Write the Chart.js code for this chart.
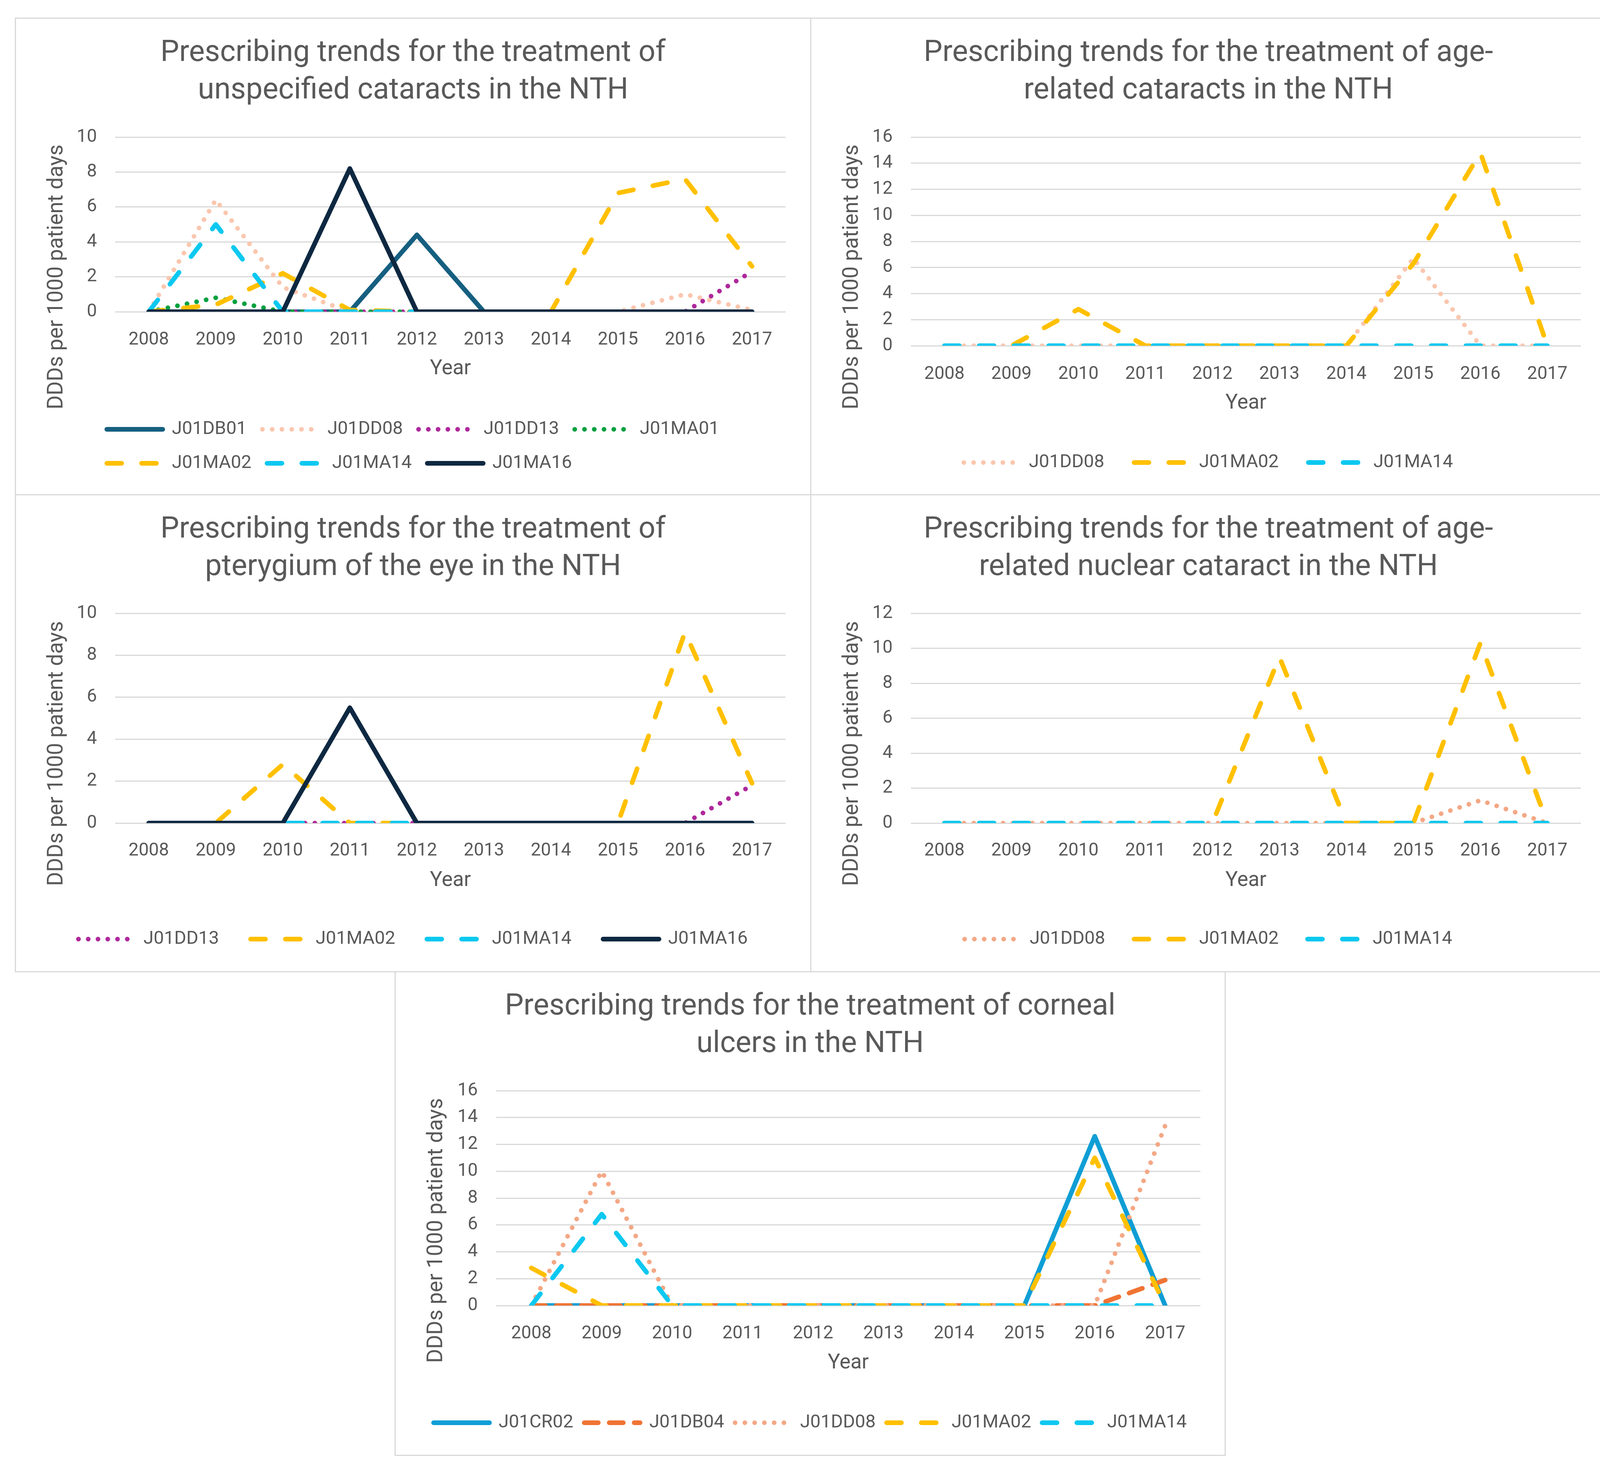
<!DOCTYPE html>
<html>
<head>
<meta charset="utf-8">
<title>Prescribing trends in the NTH</title>
<script src="https://cdn.jsdelivr.net/npm/chart.js@4.4.1/dist/chart.umd.min.js"></script>
<style>
  html, body { margin: 0; padding: 0; background: #fff; }
  body { width: 4157px; height: 3763px; position: relative; overflow: hidden; }
  .panel { position: absolute; }
  .panel canvas { position: absolute; left: 0; top: 0; }
  .frame { position: absolute; left: 0; top: 0; right: 0; bottom: 0; border: 3px solid #d9d9d9; box-sizing: border-box; pointer-events: none; }
</style>
</head>
<body>
<div class="panel" id="p1" style="left:38px;top:45px;width:2039px;height:1223px"><canvas id="c1"></canvas><div class="frame"></div></div>
<div class="panel" id="p2" style="left:2074px;top:45px;width:2039px;height:1223px"><canvas id="c2"></canvas><div class="frame"></div></div>
<div class="panel" id="p3" style="left:38px;top:1265px;width:2039px;height:1224px"><canvas id="c3"></canvas><div class="frame"></div></div>
<div class="panel" id="p4" style="left:2074px;top:1265px;width:2039px;height:1224px"><canvas id="c4"></canvas><div class="frame"></div></div>
<div class="panel" id="p5" style="left:1010px;top:2486px;width:2128px;height:1241px"><canvas id="c5"></canvas><div class="frame"></div></div>
<script>
const years = ['2008', '2009', '2010', '2011', '2012', '2013', '2014', '2015', '2016', '2017'];

// unspecified cataracts
const unspecJ01DB01 = [0, 0, 0, 0, 4.4, 0, 0, 0, 0, 0];
const unspecJ01DD08 = [0, 6.4, 1.4, 0, 0, 0, 0, 0, 1.0, 0.1];
const unspecJ01DD13 = [0, 0, 0, 0, 0, 0, 0, 0, 0, 2.3];
const unspecJ01MA01 = [0, 0.8, 0, 0, 0, 0, 0, 0, 0, 0];
const unspecJ01MA02 = [0, 0.4, 2.2, 0.1, 0, 0, 0, 6.8, 7.6, 2.6];
const unspecJ01MA14 = [0, 5.0, 0, 0, 0, 0, 0, 0, 0, 0];
const unspecJ01MA16 = [0, 0, 0, 8.2, 0, 0, 0, 0, 0, 0];

// age-related cataracts
const ageJ01DD08 = [0, 0, 0, 0, 0, 0, 0, 6.7, 0, 0];
const ageJ01MA02 = [0, 0, 2.8, 0, 0, 0, 0, 6.3, 14.8, 0];
const ageJ01MA14 = [0, 0, 0, 0, 0, 0, 0, 0, 0, 0];

// pterygium of the eye
const ptJ01DD13 = [0, 0, 0, 0, 0, 0, 0, 0, 0, 1.8];
const ptJ01MA02 = [0, 0, 2.8, 0, 0, 0, 0, 0, 9.1, 1.9];
const ptJ01MA14 = [0, 0, 0, 0, 0, 0, 0, 0, 0, 0];
const ptJ01MA16 = [0, 0, 0, 5.5, 0, 0, 0, 0, 0, 0];

// age-related nuclear cataract
const nucJ01DD08 = [0, 0, 0, 0, 0, 0, 0, 0, 1.3, 0];
const nucJ01MA02 = [0, 0, 0, 0, 0, 9.5, 0, 0, 10.3, 0];
const nucJ01MA14 = [0, 0, 0, 0, 0, 0, 0, 0, 0, 0];

// corneal ulcers
const ulcJ01CR02 = [0, 0, 0, 0, 0, 0, 0, 0, 12.6, 0];
const ulcJ01DB04 = [0, 0, 0, 0, 0, 0, 0, 0, 0, 1.9];
const ulcJ01DD08 = [0, 10.0, 0, 0, 0, 0, 0, 0, 0, 13.4];
const ulcJ01MA02 = [2.8, 0, 0, 0, 0, 0, 0, 0, 11.0, 0];
const ulcJ01MA14 = [0, 6.8, 0, 0, 0, 0, 0, 0, 0, 0];

const ink = '#595959';
const fontFamily = 'Roboto, "Liberation Sans", sans-serif';
const titleSize = 76, titleLine = 96, tickSize = 46, sideSize = 55, yearSize = 53, legendSize = 47;
const lineW = 12;
const paleDD08 = '#FAC7AF';

const seriesLook = {
  J01CR02: { color: '#0F9ED5', dash: [] },
  J01DB01: { color: '#155F80', dash: [] },
  J01DB04: { color: '#F07434', dash: [36, 28] },
  J01DD08: { color: '#F4A886', dash: [0.01, 25] },
  J01DD13: { color: '#AE289B', dash: [0.01, 25] },
  J01MA01: { color: '#00A03E', dash: [0.01, 25] },
  J01MA02: { color: '#FFC000', dash: [38, 51] },
  J01MA14: { color: '#0CC8F0', dash: [38, 51] },
  J01MA16: { color: '#0E2841', dash: [] }
};

// centre the widest legend row and keep the other rows aligned to its left edge
const legendColumns = {
  id: 'legendColumns',
  afterLayout(chart) {
    const lg = chart.legend;
    if (!lg || !lg.lineWidths || !lg.lineWidths.length) return;
    const pad = lg.options.labels.padding;
    const widest = Math.max(...lg.lineWidths);
    const shift = (lg.right - lg.left - pad - widest) / 2;
    lg.left += shift;
    lg.right += shift;
  }
};

// vertical axis title, placed like Excel does it
const sideTitle = {
  id: 'sideTitle',
  afterDraw(chart, args, opts) {
    const ctx = chart.ctx;
    ctx.save();
    ctx.translate(opts.x, opts.y);
    ctx.rotate(-Math.PI / 2);
    ctx.fillStyle = ink;
    ctx.font = sideSize + 'px ' + fontFamily;
    ctx.textAlign = 'center';
    ctx.textBaseline = 'middle';
    ctx.fillText(opts.text, 0, 0);
    ctx.restore();
  }
};

const panels = [
  {
    canvas: 'c1',
    title: ['Prescribing trends for the treatment of', 'unspecified cataracts in the NTH'],
    yMax: 10,
    pale: true,
    series: [['J01DB01', unspecJ01DB01], ['J01DD08', unspecJ01DD08], ['J01DD13', unspecJ01DD13], ['J01MA01', unspecJ01MA01],
             ['J01MA02', unspecJ01MA02], ['J01MA14', unspecJ01MA14], ['J01MA16', unspecJ01MA16]],
    box: { w: 2039, h: 1223, top: 306, bottom: 753, left: 257, right: 1973, titleY: 92, labelY: 817, yearY: 900, legendY: 1054, gap: 40, rows: 2, sideX: 108, sideY: 664 }
  },
  {
    canvas: 'c2',
    title: ['Prescribing trends for the treatment of age-', 'related cataracts in the NTH'],
    yMax: 16,
    pale: true,
    series: [['J01DD08', ageJ01DD08], ['J01MA02', ageJ01MA02], ['J01MA14', ageJ01MA14]],
    box: { w: 2039, h: 1223, top: 306, bottom: 840, left: 258, right: 1973, titleY: 92, labelY: 905, yearY: 988, legendY: 1139, gap: 76, rows: 1, sideX: 108, sideY: 664 }
  },
  {
    canvas: 'c3',
    title: ['Prescribing trends for the treatment of', 'pterygium of the eye in the NTH'],
    yMax: 10,
    series: [['J01DD13', ptJ01DD13], ['J01MA02', ptJ01MA02], ['J01MA14', ptJ01MA14], ['J01MA16', ptJ01MA16]],
    box: { w: 2039, h: 1224, top: 305, bottom: 842, left: 257, right: 1973, titleY: 92, labelY: 905, yearY: 990, legendY: 1139, gap: 81, rows: 1, sideX: 108, sideY: 664 }
  },
  {
    canvas: 'c4',
    title: ['Prescribing trends for the treatment of age-', 'related nuclear cataract in the NTH'],
    yMax: 12,
    series: [['J01DD08', nucJ01DD08], ['J01MA02', nucJ01MA02], ['J01MA14', nucJ01MA14]],
    box: { w: 2039, h: 1224, top: 305, bottom: 842, left: 258, right: 1973, titleY: 92, labelY: 905, yearY: 990, legendY: 1139, gap: 74, rows: 1, sideX: 108, sideY: 664 }
  },
  {
    canvas: 'c5',
    title: ['Prescribing trends for the treatment of corneal', 'ulcers in the NTH'],
    yMax: 16,
    series: [['J01CR02', ulcJ01CR02], ['J01DB04', ulcJ01DB04], ['J01DD08', ulcJ01DD08], ['J01MA02', ulcJ01MA02], ['J01MA14', ulcJ01MA14]],
    box: { w: 2128, h: 1241, top: 306, bottom: 856, left: 260, right: 2063, titleY: 92, labelY: 920, yearY: 1004, legendY: 1156, gap: 28, rows: 1, sideX: 108, sideY: 664 }
  }
];

Chart.defaults.font.family = fontFamily;
Chart.defaults.color = ink;

function buildChart(p) {
  const b = p.box;
  const canvas = document.getElementById(p.canvas);
  canvas.width = b.w;
  canvas.height = b.h;
  canvas.style.width = b.w + 'px';
  canvas.style.height = b.h + 'px';

  const side = b.w - b.right;
  const titleTop = b.titleY - titleLine / 2;
  const legendTop = b.legendY - b.gap - legendSize / 2;
  const legendHeight = b.rows * (legendSize + b.gap) + 10;
  const tickLine = tickSize * 1.2;
  const yearLine = yearSize * 1.2;

  const datasets = p.series.map(([code, values], i) => {
    const look = seriesLook[code];
    const color = (code === 'J01DD08' && p.pale) ? paleDD08 : look.color;
    return {
      label: code,
      data: values,
      borderColor: color,
      backgroundColor: color,
      borderWidth: lineW,
      borderDash: look.dash,
      borderCapStyle: 'round',
      borderJoinStyle: 'round',
      pointRadius: 0,
      pointHoverRadius: 0,
      tension: 0,
      fill: false,
      order: p.series.length - i   // later series drawn on top, as in Excel
    };
  });

  new Chart(canvas, {
    type: 'line',
    data: { labels: years, datasets: datasets },
    options: {
      responsive: false,
      animation: false,
      devicePixelRatio: 1,
      events: [],
      layout: { padding: { left: side, right: side, top: 0, bottom: b.h - legendTop - legendHeight } },
      plugins: {
        title: {
          display: true,
          text: p.title,
          color: ink,
          font: { size: titleSize, lineHeight: titleLine + 'px', weight: 'normal' },
          padding: { top: titleTop, bottom: b.top - titleTop - 2 * titleLine }
        },
        legend: {
          position: 'bottom',
          align: 'start',
          labels: {
            usePointStyle: true,
            pointStyleWidth: 143,
            padding: b.gap,
            color: ink,
            font: { size: legendSize },
            generateLabels: chart => chart.data.datasets.map((ds, i) => ({
              text: ds.label,
              fillStyle: ds.borderColor,
              strokeStyle: ds.borderColor,
              fontColor: ink,
              lineWidth: ds.borderWidth,
              lineDash: ds.borderDash,
              lineCap: 'round',
              lineJoin: 'round',
              pointStyle: 'line',
              hidden: false,
              datasetIndex: i
            }))
          }
        },
        tooltip: { enabled: false },
        sideTitle: { text: 'DDDs per 1000 patient days', x: b.sideX, y: b.sideY }
      },
      scales: {
        x: {
          offset: true,
          grid: { display: false },
          border: { display: false },
          ticks: {
            color: ink,
            font: { size: tickSize },
            padding: b.labelY - b.bottom - tickLine / 2,
            maxRotation: 0,
            autoSkip: false
          },
          title: {
            display: true,
            text: 'Year',
            color: ink,
            font: { size: yearSize },
            padding: { top: 0, bottom: legendTop - b.yearY - yearLine / 2 }
          },
          afterFit: s => { s.height = legendTop - b.bottom; }
        },
        y: {
          min: 0,
          max: p.yMax,
          border: { display: false },
          grid: { color: '#D9D9D9', lineWidth: 3, drawTicks: false },
          ticks: { stepSize: 2, color: ink, font: { size: tickSize }, padding: 47 },
          afterFit: s => { s.width = b.left - side; }
        }
      }
    },
    plugins: [legendColumns, sideTitle]
  });
}

panels.forEach(buildChart);
</script>
</body>
</html>
